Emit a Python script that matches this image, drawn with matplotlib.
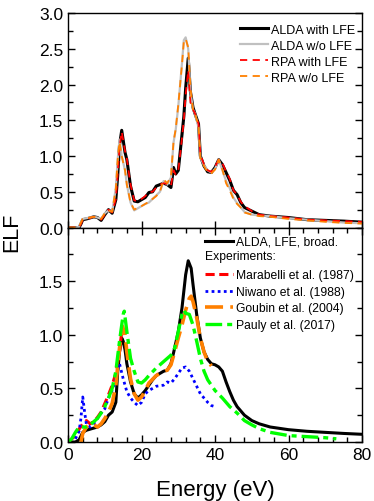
import numpy as np
import matplotlib
matplotlib.use("Agg")
import matplotlib.pyplot as plt
from matplotlib.lines import Line2D
from matplotlib.ticker import MultipleLocator

plt.rcParams['font.family'] = ['Liberation Sans', 'DejaVu Sans']

# ---- panel superior: espectros calculados ----
e_top = [0, 2, 3, 3.5, 4, 5, 6, 7, 8, 9, 10, 11, 12, 13, 13.5, 14, 14.6, 15.5, 16, 17,
         18, 19, 20, 21, 22, 23, 24, 25, 26, 27, 28, 28.7, 29.3, 30, 31, 31.5, 32, 32.7,
         33.3, 34, 34.5, 35.5, 36, 37, 38, 39, 40, 41, 42, 43, 44, 45, 46, 47, 48, 50,
         52, 55, 60, 65, 70, 75, 80]
alda_lfe = [0, 0, 0.0, 0.05, 0.11, 0.12, 0.135, 0.15, 0.14, 0.10, 0.18, 0.25, 0.2, 0.39,
            0.72, 1.15, 1.36, 1.05, 0.95, 0.58, 0.37, 0.36, 0.39, 0.42, 0.49, 0.50, 0.58,
            0.60, 0.62, 0.60, 0.56, 0.84, 0.75, 0.80, 1.30, 1.55, 1.95, 2.37, 1.9, 1.68,
            1.6, 1.45, 1.0, 0.86, 0.78, 0.77, 0.84, 0.95, 0.88, 0.77, 0.66, 0.52, 0.46,
            0.35, 0.28, 0.23, 0.18, 0.16, 0.14, 0.11, 0.10, 0.09, 0.075]
alda_nolfe = [0, 0, 0.01, 0.07, 0.12, 0.13, 0.14, 0.15, 0.14, 0.12, 0.2, 0.24, 0.22, 0.55,
              0.95, 1.23, 1.0, 0.8, 0.6, 0.35, 0.24, 0.27, 0.30, 0.33, 0.35, 0.40, 0.45,
              0.50, 0.65, 0.60, 0.70, 1.19, 1.37, 1.7, 2.3, 2.62, 2.66, 2.5, 1.9, 1.65,
              1.6, 1.4, 0.98, 0.87, 0.80, 0.77, 0.82, 0.95, 0.80, 0.65, 0.55, 0.42, 0.34,
              0.28, 0.22, 0.18, 0.17, 0.16, 0.13, 0.11, 0.09, 0.07, 0.06]
rpa_lfe = [0, 0, 0.0, 0.05, 0.11, 0.12, 0.135, 0.15, 0.14, 0.11, 0.18, 0.25, 0.21, 0.40,
           0.75, 1.12, 1.34, 1.07, 0.96, 0.60, 0.38, 0.37, 0.40, 0.44, 0.50, 0.50, 0.56,
           0.60, 0.62, 0.61, 0.58, 0.80, 0.74, 0.80, 1.25, 1.5, 1.85, 2.2, 1.75, 1.65,
           1.6, 1.45, 1.02, 0.88, 0.80, 0.78, 0.85, 0.95, 0.90, 0.78, 0.68, 0.52, 0.46,
           0.36, 0.30, 0.23, 0.18, 0.16, 0.14, 0.11, 0.10, 0.09, 0.08]
rpa_nolfe = [0, 0, 0.01, 0.07, 0.12, 0.13, 0.14, 0.15, 0.14, 0.12, 0.2, 0.24, 0.22, 0.55,
             0.95, 1.2, 1.0, 0.8, 0.6, 0.35, 0.25, 0.28, 0.30, 0.33, 0.36, 0.40, 0.44,
             0.50, 0.67, 0.62, 0.72, 1.2, 1.38, 1.72, 2.28, 2.6, 2.64, 2.52, 1.95, 1.65,
             1.6, 1.42, 0.97, 0.86, 0.77, 0.76, 0.81, 0.95, 0.81, 0.62, 0.52, 0.40, 0.33,
             0.28, 0.21, 0.18, 0.16, 0.15, 0.12, 0.10, 0.08, 0.065, 0.055]

# ---- panel inferior: ALDA ensanchado y experimentos ----
e_broad = [0, 2, 3, 4, 5, 6, 8, 9, 10, 11, 12, 13, 13.5, 14, 14.6, 15, 15.5, 16, 17, 18,
           19, 20, 21, 22, 23, 24, 25, 26, 27, 28, 29, 30, 31, 32, 32.7, 33.5, 34, 35,
           36, 37, 38, 39, 40, 41, 42, 43, 44, 45, 46, 48, 50, 52, 55, 60, 65, 70, 75, 80]
broad = [0, 0, 0.02, 0.09, 0.11, 0.12, 0.14, 0.16, 0.19, 0.25, 0.28, 0.37, 0.65, 0.84,
         0.97, 0.94, 0.86, 0.73, 0.56, 0.45, 0.41, 0.44, 0.48, 0.53, 0.58, 0.62, 0.64,
         0.66, 0.67, 0.73, 0.875, 1.03, 1.25, 1.56, 1.69, 1.62, 1.47, 1.19, 0.97, 0.84,
         0.77, 0.73, 0.72, 0.70, 0.66, 0.56, 0.47, 0.39, 0.33, 0.25, 0.20, 0.17, 0.14,
         0.115, 0.10, 0.09, 0.08, 0.072]

e_mara = [0, 1, 2, 3, 4, 5, 6, 7, 8, 9, 10, 11, 12, 13, 14, 14.5]
mara = [0.0, 0.03, 0.06, 0.12, 0.17, 0.20, 0.17, 0.19, 0.23, 0.28, 0.36, 0.44, 0.53,
        0.64, 0.84, 1.0]

e_niw = [2, 3, 3.5, 4, 4.5, 5, 6, 7, 8, 9, 10, 11, 12, 13, 14, 15, 16, 17, 18, 19, 20,
         21, 22, 24, 26, 27, 28, 29, 30, 31, 32, 33, 34, 35, 36, 37, 38, 39, 40]
niw = [0.03, 0.10, 0.22, 0.42, 0.28, 0.16, 0.14, 0.17, 0.22, 0.27, 0.31, 0.41, 0.48,
       0.59, 0.73, 0.59, 0.47, 0.41, 0.37, 0.34, 0.37, 0.45, 0.48, 0.52, 0.53, 0.56,
       0.55, 0.59, 0.64, 0.69, 0.70, 0.66, 0.59, 0.52, 0.45, 0.41, 0.37, 0.34, 0.33]

e_gou = [3.5, 4, 5, 6, 7, 8, 9, 10, 11, 12, 13, 14, 14.8, 15.5, 16, 17, 18, 19, 20, 21,
         22, 24, 26, 27, 28, 29, 30, 31, 32, 33, 33.5, 34, 35, 36, 37, 38, 39]
gou = [0.0, 0.08, 0.14, 0.17, 0.16, 0.14, 0.17, 0.22, 0.28, 0.36, 0.53, 0.875, 1.08,
       1.0, 0.84, 0.59, 0.45, 0.39, 0.42, 0.48, 0.55, 0.62, 0.66, 0.67, 0.72, 0.84,
       0.97, 1.09, 1.23, 1.34, 1.36, 1.31, 1.16, 0.97, 0.84, 0.75, 0.71]

e_pau = [0, 1, 2, 3, 4, 5, 6, 7, 8, 9, 10, 11, 12, 13, 14, 15, 15.3, 16, 17, 18, 19, 20,
         21, 22, 24, 26, 28, 29, 30, 31, 31.5, 32, 33, 34, 35, 36, 37, 38, 40, 42, 44,
         46, 48, 50, 52, 55, 60, 65, 70, 73]
pau = [0.0, 0.03, 0.09, 0.14, 0.14, 0.14, 0.16, 0.19, 0.22, 0.27, 0.33, 0.41, 0.50,
       0.66, 0.94, 1.19, 1.22, 1.03, 0.78, 0.66, 0.56, 0.55, 0.58, 0.62, 0.69, 0.75,
       0.81, 0.875, 1.03, 1.19, 1.23, 1.20, 1.19, 1.09, 0.94, 0.78, 0.66, 0.58, 0.48,
       0.41, 0.33, 0.27, 0.20, 0.16, 0.125, 0.09, 0.06, 0.05, 0.04, 0.03]

#%%
fig, (ax1, ax2) = plt.subplots(2, 1, sharex=True, figsize=(3.74, 5.02), dpi=100)
fig.subplots_adjust(left=0.182, right=0.968, top=0.972, bottom=0.1175, hspace=0)

ax1.plot(e_top, alda_lfe, color='black', lw=2.2, label='ALDA with LFE')
ax1.plot(e_top, alda_nolfe, color='#c0c0c0', lw=1.6, label='ALDA w/o LFE')
ax1.plot(e_top, rpa_lfe, color='red', lw=1.3, ls=(0, (4, 3)), label='RPA with LFE')
ax1.plot(e_top, rpa_nolfe, color='#ff8000', lw=1.3, ls=(0, (4, 3)), label='RPA w/o LFE')

ax2.plot(e_broad, broad, color='black', lw=2.2)
ax2.plot(e_mara, mara, color='red', lw=2.2, ls=(0, (3, 1.5)))
ax2.plot(e_niw, niw, color='blue', lw=2.0, ls=(0, (1, 1.2)))
ax2.plot(e_gou, gou, color='#ff8000', lw=2.6, ls=(0, (5, 2)))
ax2.plot(e_pau, pau, color='#00ff00', lw=2.4, ls=(0, (5, 1.5, 1.5, 1.5)))

ax1.set_ylim(0, 3.0)
ax2.set_ylim(0, 2.0)
ax2.set_xlim(0, 80)
ax1.yaxis.set_major_locator(MultipleLocator(0.5))
ax1.yaxis.set_minor_locator(MultipleLocator(0.25))
ax2.set_yticks([0, 0.5, 1.0, 1.5])
ax2.yaxis.set_minor_locator(MultipleLocator(0.25))
ax2.xaxis.set_major_locator(MultipleLocator(20))
ax2.xaxis.set_minor_locator(MultipleLocator(4))

for ax in (ax1, ax2):
    ax.tick_params(which='both', direction='in', left=True, right=True, labelsize=12.5)
    ax.tick_params(which='major', length=5, width=1)
    ax.tick_params(which='minor', length=3.5, width=1)
    for s in ax.spines.values():
        s.set_linewidth(1)
ax1.tick_params(axis='x', which='both', top=False, bottom=True, labelbottom=False)
ax1.tick_params(axis='x', which='minor', length=0)
ax2.tick_params(axis='x', which='both', top=True, bottom=True)
ax1.yaxis.set_major_formatter(matplotlib.ticker.FormatStrFormatter('%.1f'))
ax2.yaxis.set_major_formatter(matplotlib.ticker.FormatStrFormatter('%.1f'))
ax2.xaxis.set_major_formatter(matplotlib.ticker.FormatStrFormatter('%d'))

ax2.set_xlabel('Energy (eV)', fontsize=16, labelpad=12)
fig.text(0.032, 0.538, 'ELF', rotation=90, fontsize=15.5, ha='center', va='center')

ax1.legend(loc='upper right', frameon=False, fontsize=9, handlelength=2.3,
           handletextpad=0.2, labelspacing=0.32, borderaxespad=0.45,
           bbox_to_anchor=(1.012, 1.0))

handles = [Line2D([], [], color='black', lw=2.2),
           Line2D([], [], color='none'),
           Line2D([], [], color='red', lw=2.2, ls=(0, (3, 1.5))),
           Line2D([], [], color='blue', lw=2.0, ls=(0, (1, 1.2))),
           Line2D([], [], color='#ff8000', lw=2.6, ls=(0, (5, 2))),
           Line2D([], [], color='#00ff00', lw=2.4, ls=(0, (5, 1.5, 1.5, 1.5)))]
labels = ['ALDA, LFE, broad.', ' ', 'Marabelli et al. (1987)', 'Niwano et al. (1988)',
          'Goubin et al. (2004)', 'Pauly et al. (2017)']
ax2.legend(handles, labels, loc='upper right', frameon=False, fontsize=8.7,
           handlelength=2.3, handletextpad=0.25, labelspacing=0.38, borderaxespad=0.3,
           bbox_to_anchor=(1.0, 1.0))
ax2.text(0.466, 0.866, 'Experiments:', transform=ax2.transAxes, fontsize=8.7,
         ha='left', va='center')

fig.savefig('out.png', dpi=100)
